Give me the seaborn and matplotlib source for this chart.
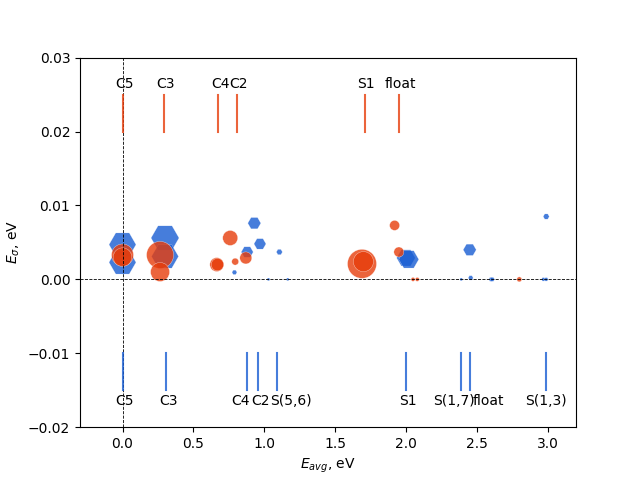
import numpy as np
import pandas as pd
import seaborn as sns
import matplotlib
matplotlib.use("Agg")
import matplotlib.pyplot as plt

ORANGE = "#e73d0b"
BLUE = "#185dd3"

# ------------------------------------------------------------
# scatter data (x = E_avg, y = E_sigma, w = bubble weight)
orange_x = [0.0, 0.0, 0.265, 0.265, 0.665, 0.67, 0.76, 0.795, 0.87,
            1.69, 1.70, 1.92, 1.95, 2.05, 2.08, 2.80]
orange_y = [0.0033, 0.0030, 0.0033, 0.0010, 0.0020, 0.0020, 0.0056, 0.0024, 0.0029,
            0.0021, 0.0024, 0.0073, 0.0037, 0.0, 0.0, 0.0]
orange_w = [250, 180, 378, 187, 100, 80, 117, 25, 75,
            436, 207, 52, 52, 8, 8, 13]

blue_x = [0.0, 0.0, 0.30, 0.30, 0.93, 0.97, 0.88, 1.107, 0.79, 1.03, 1.166,
          2.00, 2.02, 2.45, 2.99, 2.39, 2.457, 2.60, 2.61, 2.97, 2.99]
blue_y = [0.0047, 0.0023, 0.0056, 0.0031, 0.0076, 0.0048, 0.0037, 0.0037, 0.00095, 0.0, 0.0,
          0.0029, 0.0027, 0.0040, 0.0085, 0.0, 0.0002, 0.0, 0.0, 0.0, 0.0]
blue_w = [378, 378, 406, 378, 88, 75, 75, 19, 13, 5, 5,
          180, 207, 88, 19, 5, 13, 10, 10, 8, 8]

# reference lines with labels
top_names = ["C5", "C3", "C4", "C2", "S1", "float"]
top_pos = [0.0, 0.29, 0.675, 0.805, 1.71, 1.95]
top_nudge = [0.015, 0.015, 0.015, 0.01, 0.01, 0.01]

bot_names = ["C5", "C3", "C4", "C2", "S(5,6)", "S1", "S(1,7)", "float", "S(1,3)"]
bot_pos = [0.0, 0.31, 0.88, 0.956, 1.09, 2.0, 2.387, 2.45, 2.987]
bot_nudge = [0.015, 0.015, -0.045, 0.017, 0.1, 0.015, -0.05, 0.13, 0.0]

df_o = pd.DataFrame({"x": orange_x, "y": orange_y, "w": orange_w})
df_b = pd.DataFrame({"x": blue_x, "y": blue_y, "w": blue_w})
wmin = min(orange_w + blue_w)
wmax = max(orange_w + blue_w)

# ------------------------------------------------------------
fig, ax = plt.subplots(figsize=(6.4, 4.8), dpi=100)

ax.axhline(0, color="k", ls="--", lw=0.6)
ax.axvline(0, color="k", ls="--", lw=0.6)

sns.scatterplot(data=df_b, x="x", y="y", size="w", sizes=(wmin, wmax),
                size_norm=(wmin, wmax), color=BLUE, marker="H", alpha=0.8,
                legend=False, ax=ax)
sns.scatterplot(data=df_o, x="x", y="y", size="w", sizes=(wmin, wmax),
                size_norm=(wmin, wmax), color=ORANGE, marker="o", alpha=0.8,
                legend=False, ax=ax)

for name, p, n in zip(top_names, top_pos, top_nudge):
    ax.plot([p, p], [0.02, 0.025], color=ORANGE, alpha=0.8, lw=1.5)
    ax.text(p + n, 0.0255, name, ha="center", va="bottom", fontsize=10)

for name, p, n in zip(bot_names, bot_pos, bot_nudge):
    ax.plot([p, p], [-0.01, -0.015], color=BLUE, alpha=0.8, lw=1.5)
    ax.text(p + n, -0.0155, name, ha="center", va="top", fontsize=10)

ax.set_xlim(-0.3, 3.2)
ax.set_ylim(-0.02, 0.03)
ax.set_xlabel(r"$E_{avg}$, eV")
ax.set_ylabel(r"$E_{\sigma}$, eV")

plt.savefig("out.png", dpi=100)
